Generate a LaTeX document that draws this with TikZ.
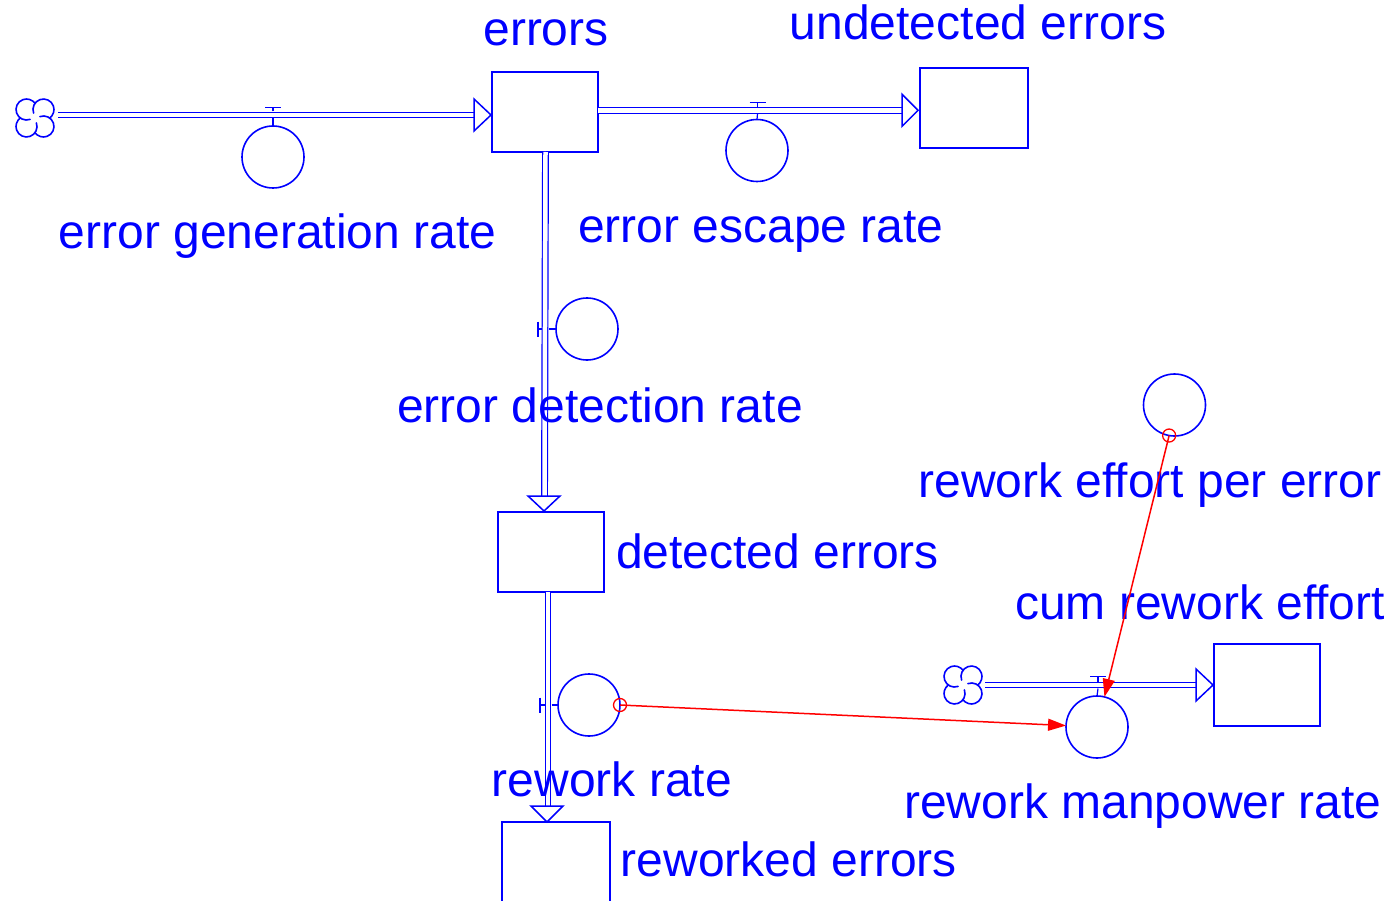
\documentclass[tikz,border=0pt]{standalone}
\usepackage{fontspec}
\setmainfont{Liberation Sans}
\usetikzlibrary{arrows.meta,calc}
\definecolor{vblue}{RGB}{0,0,255}
\definecolor{vred}{RGB}{255,0,0}
\tikzset{
  stock/.style={draw=vblue, line width=1.8pt, minimum width=106pt, minimum height=80pt, inner sep=0pt, outer sep=0pt},
  aux/.style={circle, draw=vblue, line width=1.6pt, minimum size=62pt, inner sep=0pt, outer sep=0pt},
  lbl/.style={text=vblue, font=\fontsize{48}{58}\selectfont, inner sep=0pt, anchor=base},
  pipe/.style={draw=vblue, line width=1.2pt, double=white, double distance=4.5pt},
  flowhead/.style={draw=vblue, line width=1.5pt, fill=white, line join=miter},
  valvebar/.style={draw=vblue, line width=1.2pt},
  link/.style={draw=vred, line width=1.5pt, -{Triangle[length=18pt,width=12pt]}},
  linkdot/.style={draw=vred, line width=1.3pt},
  cloudline/.style={draw=vblue, line width=1.6pt, line cap=round},
}
\newcommand{\drawcloud}[1]{%
  \foreach \a in {45,135,225,315}{%
    \draw[cloudline] ($(#1)+(\a:12)$) ++(\a+205:10.5) arc[start angle=\a+205, delta angle=254, radius=10.5];
  }}
\begin{document}
\begin{tikzpicture}[x=1pt,y=-1pt]
\useasboundingbox (0,0) rectangle (1391,901);
\clip (0,0) rectangle (1391,901);

% stocks
\node[stock] (errors) at (545,112) {};
\node[stock, minimum width=108pt] (undet) at (974,108) {};
\node[stock] (det) at (551,552) {};
\node[stock, minimum width=108pt] (rew) at (556,862) {};
\node[stock, minimum height=82pt] (cum) at (1267,685) {};

% auxiliaries / rates
\node[aux] (egr) at (273,157) {};
\node[aux] (eer) at (757,150.5) {};
\node[aux] (edr) at (587,329) {};
\node[aux] (rr) at (589,705) {};
\node[aux] (rmr) at (1097,727) {};
\node[aux] (repe) at (1174.5,405) {};

% clouds
\coordinate (cl1) at (35,118);
\coordinate (cl2) at (963,685);
\drawcloud{cl1}
\drawcloud{cl2}

% valve positions
\coordinate (v1) at (273,115);
\coordinate (v2) at (757.5,110.3);
\coordinate (v3) at (545.5,329);
\coordinate (v4) at (548,705);
\coordinate (v5) at (1098,685);

% flow 1: cloud -> errors
\draw[pipe] ([xshift=23pt,yshift=3pt]cl1) -- ([xshift=-17pt,yshift=-3pt]errors.west);
\draw[flowhead] ([xshift=-1pt,yshift=-3pt]errors.west) -- ++(-17,-16) -- ++(0,32) -- cycle;
\draw[valvebar] ([yshift=3.5pt]v1) -- ([yshift=7.5pt]v1);
\draw[valvebar] ([xshift=-8pt,yshift=7.5pt]v1) -- ([xshift=8pt,yshift=7.5pt]v1);
\draw[valvebar] ([yshift=-3.5pt]v1) -- (egr.north);

% flow 2: errors -> undetected errors
\draw[pipe] ([yshift=1.7pt]errors.east) -- ([xshift=-18pt,yshift=-2.3pt]undet.west);
\draw[flowhead] ([xshift=-2pt,yshift=-2.3pt]undet.west) -- ++(-16,-16) -- ++(0,32) -- cycle;
\draw[valvebar] ([yshift=3.5pt]v2) -- ([yshift=8pt]v2);
\draw[valvebar] ([xshift=-8pt,yshift=8pt]v2) -- ([xshift=8pt,yshift=8pt]v2);
\draw[valvebar] ([yshift=-3.5pt]v2) -- (eer.north);

% flow 3: errors -> detected errors
\draw[pipe] ([xshift=0.5pt]errors.south) -- ([xshift=-6.5pt,yshift=16pt]det.north);
\draw[flowhead] ([xshift=-7pt,yshift=1pt]det.north) -- ++(-16,-15) -- ++(32,0) -- cycle;
\draw[valvebar] ([xshift=-3.5pt]v3) -- ([xshift=-7.5pt]v3);
\draw[valvebar] ([xshift=-7.5pt,yshift=7.5pt]v3) -- ([xshift=-7.5pt,yshift=-7.5pt]v3);
\draw[valvebar] ([xshift=3.5pt]v3) -- (edr.west);

% flow 4: detected errors -> reworked errors
\draw[pipe] ([xshift=-3pt]det.south) -- ([xshift=-8pt,yshift=16pt]rew.north);
\draw[flowhead] ([xshift=-9pt]rew.north) -- ++(-16,-16) -- ++(32,0) -- cycle;
\draw[valvebar] ([xshift=-3.5pt]v4) -- ([xshift=-8pt]v4);
\draw[valvebar] ([xshift=-8pt,yshift=7.5pt]v4) -- ([xshift=-8pt,yshift=-7.5pt]v4);
\draw[valvebar] ([xshift=3.5pt]v4) -- (rr.west);

% flow 5: cloud -> cum rework effort
\draw[pipe] ([xshift=22pt]cl2) -- ([xshift=-17pt]cum.west);
\draw[flowhead] ([xshift=-1pt]cum.west) -- ++(-17,-16) -- ++(0,32) -- cycle;
\draw[valvebar] ([yshift=3.5pt]v5) -- ([yshift=8.5pt]v5);
\draw[valvebar] ([xshift=-8pt,yshift=8.5pt]v5) -- ([xshift=8pt,yshift=8.5pt]v5);
\draw[valvebar] ([yshift=-3.5pt]v5) -- (rmr.north);

% labels
\node[lbl] (t-errors) at (546,46) {errors};
\node[lbl] (t-undet) at (978,40) {undetected errors};
\node[lbl] (t-egr) at (277.5,248) {error generation rate};
\node[lbl] (t-eer) at (761,243) {error escape rate};
\node[lbl] (t-edr) at (600,422) {error detection rate};
\node[lbl] (t-repe) at (1150,497) {rework effort per error};
\node[lbl] (t-det) at (777.5,568) {detected errors};
\node[lbl] (t-cum) at (1200,619) {cum rework effort};
\node[lbl] (t-rr) at (612,796) {rework rate};
\node[lbl] (t-rmr) at (1143,818) {rework manpower rate};
\node[lbl] (t-rew) at (789,876) {reworked errors};

% causal links
\draw[linkdot] (rr.east) circle[radius=6.5];
\draw[link] (rr.east) -- (rmr);
\draw[linkdot] (repe.-100) circle[radius=6.5];
\draw[link] (repe.-100) -- (rmr);
\end{tikzpicture}
\end{document}
